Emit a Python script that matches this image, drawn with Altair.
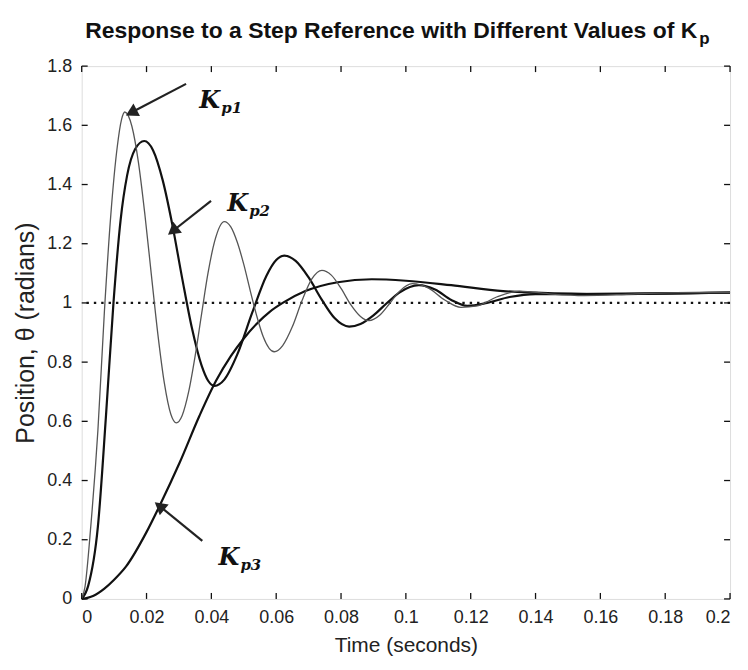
import math
import altair as alt
import pandas as pd

# ---- data ----
kp1_t = [0, 0.001, 0.0028, 0.005, 0.007, 0.009, 0.011, 0.0123, 0.0133,
         0.0155, 0.0175, 0.0195, 0.0215, 0.0235, 0.0255, 0.0275, 0.0292,
         0.031, 0.033, 0.035, 0.037, 0.039, 0.041, 0.044,
         0.046, 0.048, 0.050, 0.052, 0.054, 0.056, 0.0594,
         0.062, 0.065, 0.068, 0.071, 0.0741,
         0.077, 0.080, 0.083, 0.086, 0.0886,
         0.092, 0.095, 0.098, 0.102, 0.107, 0.112, 0.117, 0.122, 0.128, 0.135,
         0.145, 0.155, 0.17, 0.185, 0.2]
kp1_v = [0, 0.04, 0.245, 0.57, 0.97, 1.3, 1.53, 1.62, 1.645,
         1.596, 1.475, 1.298, 1.094, 0.894, 0.729, 0.624, 0.595,
         0.62, 0.70, 0.821, 0.964, 1.103, 1.208, 1.275,
         1.257, 1.205, 1.13, 1.041, 0.956, 0.886, 0.835,
         0.856, 0.92, 1.009, 1.081, 1.11,
         1.094, 1.049, 0.994, 0.954, 0.94,
         0.959, 0.998, 1.039, 1.065, 1.05, 1.01, 0.985, 0.99, 1.02, 1.04,
         1.03, 1.025, 1.03, 1.035, 1.035]

kp2_t = [0, 0.002, 0.005, 0.0075, 0.0098, 0.012, 0.014, 0.0165, 0.0193,
         0.022, 0.025, 0.028, 0.031, 0.034, 0.037, 0.039, 0.041,
         0.044, 0.048, 0.0526, 0.057, 0.060, 0.0625,
         0.066, 0.070, 0.074, 0.078, 0.0825,
         0.086, 0.090, 0.094, 0.098, 0.104,
         0.109, 0.114, 0.119, 0.125, 0.132, 0.14, 0.15, 0.2]
kp2_v = [0, 0.044, 0.245, 0.62, 1.0, 1.28, 1.43, 1.52, 1.547,
         1.516, 1.414, 1.262, 1.083, 0.915, 0.788, 0.737, 0.72,
         0.741, 0.826, 0.967, 1.092, 1.145, 1.16,
         1.142, 1.086, 1.012, 0.949, 0.92,
         0.929, 0.958, 0.998, 1.035, 1.06,
         1.045, 1.01, 0.99, 1.0, 1.02, 1.03, 1.03, 1.035]

kp3_t = [0, 0.0035, 0.007, 0.010, 0.0137, 0.0199, 0.024, 0.0302, 0.0363, 0.0414,
         0.046, 0.050, 0.054, 0.058, 0.062, 0.069, 0.079, 0.0895, 0.1, 0.114,
         0.13, 0.14, 0.16, 0.2]
kp3_v = [0, 0.01, 0.035, 0.065, 0.11, 0.224, 0.314, 0.46, 0.618, 0.736,
         0.82, 0.88, 0.93, 0.97, 1.0, 1.04, 1.07, 1.08, 1.075, 1.06,
         1.04, 1.035, 1.03, 1.035]

reference_level = [1.0]
x_ticks = [0, 0.02, 0.04, 0.06, 0.08, 0.1, 0.12, 0.14, 0.16, 0.18, 0.2]
y_ticks = [0, 0.2, 0.4, 0.6, 0.8, 1.0, 1.2, 1.4, 1.6, 1.8]

# annotations: label K position (baseline), subscript, arrow tail -> head (data coords)
ann_sub = ["p1", "p2", "p3"]
ann_k_t = [0.0363, 0.0449, 0.0422]
ann_k_v = [1.66, 1.31, 0.115]
ann_tail_t = [0.0322, 0.0399, 0.0372]
ann_tail_v = [1.74, 1.345, 0.196]
ann_head_t = [0.0153, 0.0281, 0.0240]
ann_head_v = [1.643, 1.243, 0.314]

TITLE = "Response to a Step Reference with Different Values of K"

W, H = 651, 535
XMAX, YMAX = 0.2, 1.8

xs = alt.Scale(domain=[0, XMAX], nice=False, zero=False)
ys = alt.Scale(domain=[0, YMAX], nice=False, zero=False)

def curve(ts, vs, color, width):
    df = pd.DataFrame({"t": ts, "v": vs})
    return alt.Chart(df).mark_line(color=color, strokeWidth=width, interpolate="monotone").encode(
        x=alt.X("t:Q", scale=xs), y=alt.Y("v:Q", scale=ys))

FONT = "Liberation Sans"
base_x = alt.X("t:Q", scale=xs, axis=alt.Axis(values=x_ticks, format="~g", ticks=False, grid=False,
               domain=False, labelFontSize=18, labelFont=FONT, labelColor="#222",
               labelPadding=10, title="Time (seconds)", titleFontSize=21, titleFont=FONT,
               titleFontWeight="normal", titleColor="#222", titlePadding=8))
base_y = alt.Y("v:Q", scale=ys, axis=alt.Axis(values=y_ticks, format="~g", ticks=False, grid=False,
               domain=False, labelFontSize=18, labelFont=FONT, labelColor="#222",
               labelPadding=10, title="Position, θ (radians)", titleFontSize=25,
               titleFont=FONT, titleFontWeight="normal", titleColor="#222", titlePadding=8))

axes_layer = alt.Chart(pd.DataFrame({"t": [0], "v": [0]})).mark_point(opacity=0).encode(x=base_x, y=base_y)

ref = alt.Chart(pd.DataFrame({"v": reference_level})).mark_rule(
    color="#111", strokeWidth=2.4, strokeDash=[2.4, 5]).encode(y=alt.Y("v:Q", scale=ys))

c1 = curve(kp1_t, kp1_v, "#555", 1.3)
c2 = curve(kp2_t, kp2_v, "#111", 2.2)
c3 = curve(kp3_t, kp3_v, "#111", 2.2)

# inward ticks
xt = pd.DataFrame({"t": x_ticks})
yt = pd.DataFrame({"v": y_ticks})
tick_style = dict(color="#111", strokeWidth=1.3)
tb = alt.Chart(xt).mark_rule(**tick_style).encode(x=alt.X("t:Q", scale=xs), y=alt.value(H), y2=alt.value(H - 6))
tt = alt.Chart(xt).mark_rule(**tick_style).encode(x=alt.X("t:Q", scale=xs), y=alt.value(0), y2=alt.value(6))
tl = alt.Chart(yt).mark_rule(**tick_style).encode(y=alt.Y("v:Q", scale=ys), x=alt.value(0), x2=alt.value(6))
tr = alt.Chart(yt).mark_rule(**tick_style).encode(y=alt.Y("v:Q", scale=ys), x=alt.value(W - 6), x2=alt.value(W))

# annotations
angles = []
for a, b, c, d in zip(ann_tail_t, ann_tail_v, ann_head_t, ann_head_v):
    dx = (c - a) / XMAX * W
    dy = -(d - b) / YMAX * H
    angles.append(math.degrees(math.atan2(dx, -dy)) % 360)
ann = pd.DataFrame({"sub": ann_sub, "kt": ann_k_t, "kv": ann_k_v,
                    "t0": ann_tail_t, "v0": ann_tail_v, "t1": ann_head_t, "v1": ann_head_v,
                    "ang": angles})
arrows = alt.Chart(ann).mark_rule(color="#222", strokeWidth=2.2).encode(
    x=alt.X("t0:Q", scale=xs), y=alt.Y("v0:Q", scale=ys), x2="t1:Q", y2="v1:Q")
heads = alt.Chart(ann).mark_point(shape="triangle-up", filled=True, color="#222", size=200, opacity=1).encode(
    x=alt.X("t1:Q", scale=xs), y=alt.Y("v1:Q", scale=ys), angle=alt.Angle("ang:Q", scale=None))
ktext = alt.Chart(ann).mark_text(text="K", font="DejaVu Serif", fontStyle="italic", fontWeight="bold",
                                 fontSize=24, align="left", baseline="alphabetic", color="#111").encode(
    x=alt.X("kt:Q", scale=xs), y=alt.Y("kv:Q", scale=ys))
stext = alt.Chart(ann).mark_text(font="DejaVu Serif", fontStyle="italic", fontWeight="bold",
                                 fontSize=15, align="left", baseline="alphabetic", dx=22, dy=5, color="#111").encode(
    x=alt.X("kt:Q", scale=xs), y=alt.Y("kv:Q", scale=ys), text="sub:N")

one = pd.DataFrame({"a": [0]})
title_main = alt.Chart(one).mark_text(text=TITLE, font=FONT, fontWeight="bold", fontSize=23,
                                      align="right", baseline="alphabetic", color="#111").encode(
    x=alt.value(618), y=alt.value(-28))
title_sub = alt.Chart(one).mark_text(text="p", font=FONT, fontWeight="bold", fontSize=17,
                                     align="left", baseline="alphabetic", color="#111").encode(
    x=alt.value(620), y=alt.value(-22))

chart = alt.layer(axes_layer, ref, c3, c2, c1, tb, tt, tl, tr, arrows, heads, ktext, stext,
                  title_main, title_sub).properties(
    width=W, height=H,
    autosize=alt.AutoSizeParams(type="none"),
    padding={"left": 74, "top": 57, "right": 10, "bottom": 70},
).configure_view(stroke="#111", strokeWidth=1.6).configure(background="white")

chart.save("out.html", embed_options={"renderer": "svg", "actions": False})
